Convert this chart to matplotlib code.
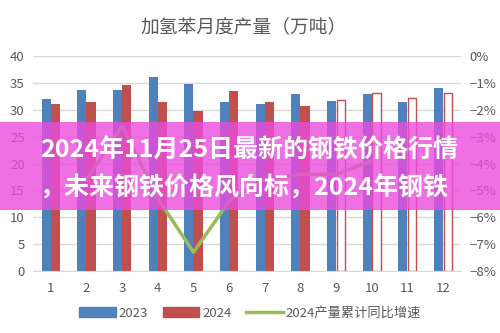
import matplotlib
matplotlib.use("Agg")
import matplotlib.pyplot as plt
import numpy as np
from matplotlib.lines import Line2D
from matplotlib.patches import Patch, Rectangle

plt.rcParams["font.family"] = ["Noto Sans CJK SC", "DejaVu Sans"]

months = np.arange(1, 13)
month_labels = [str(m) for m in months]
output_2023 = [32.0, 33.7, 33.7, 36.1, 34.8, 31.4, 31.1, 32.9, 31.7, 33.0, 31.4, 34.0]
output_2024 = [31.1, 31.4, 34.6, 31.4, 29.8, 33.4, 31.4, 30.6, 31.9, 33.2, 32.1, 33.1]
# months from September on are drawn as outlined (estimated) bars
estimated = [False] * 8 + [True] * 4
growth_2024 = [np.nan, -4.6, -2.6, -5.3, -7.3, -5.4, -4.6, -4.4, -4.4, -3.9, np.nan, np.nan]

left_ticks = [0, 5, 10, 15, 20, 25, 30, 35, 40]
right_ticks = [0, -1, -2, -3, -4, -5, -6, -7, -8]

BLUE = "#4F81BD"
RED = "#C0504D"
GREEN = "#9BBB59"
GRID = "#D9D9D9"
TEXT = "#595959"

fig = plt.figure(figsize=(5.0, 3.33), dpi=100)
fig.patch.set_facecolor("white")
ax = fig.add_axes([0.066, 0.186, 0.856, 0.646])
ax2 = ax.twinx()

width = 0.26
for m, v23, v24, est in zip(months, output_2023, output_2024, estimated):
    ax.bar(m - width / 2, v23, width=width, color=BLUE, zorder=2)
    if est:
        ax.bar(m + width / 2, v24, width=width * 0.92, facecolor="white",
               edgecolor=RED, linewidth=1.0, zorder=2)
    else:
        ax.bar(m + width / 2, v24, width=width, color=RED, zorder=2)

ax.set_xlim(0.5, 12.5)
ax.set_ylim(0, 40)
ax.set_yticks(left_ticks)
ax.set_xticks(months)
ax.set_xticklabels(month_labels)
ax.grid(axis="y", color=GRID, linewidth=1.0, zorder=0)
ax.set_axisbelow(True)
for side in ("left", "right", "top"):
    ax.spines[side].set_visible(False)
ax.spines["bottom"].set_color(GRID)
ax.tick_params(axis="both", length=0, colors=TEXT, labelsize=9.5)
ax.tick_params(axis="x", pad=8)
ax.tick_params(axis="y", pad=6)

ax2.plot(months, growth_2024, color=GREEN, linewidth=2.5, zorder=3)
ax2.set_ylim(-8, 0)
ax2.set_yticks(right_ticks)
ax2.set_yticklabels([f"{t}%".replace("-", "\u2212") for t in right_ticks])
for side in ("left", "right", "top", "bottom"):
    ax2.spines[side].set_visible(False)
ax2.tick_params(axis="y", length=0, colors=TEXT, labelsize=9.5, pad=6)

fig.text(0.487, 0.921, "加氢苯月度产量（万吨）", ha="center", va="center",
         fontsize=13.5, color=TEXT)

handles = [
    Patch(color=BLUE),
    Patch(color=RED),
    Line2D([0], [0], color=GREEN, linewidth=2.5),
]
fig.legend(handles, ["2023", "2024", "2024产量累计同比增速"], loc="center",
           bbox_to_anchor=(0.5, 0.06), ncol=3, frameon=False, fontsize=9.5,
           labelcolor=TEXT, handlelength=2.8, handleheight=0.7,
           columnspacing=1.1, handletextpad=0.2)

# headline banner laid over the chart
banner = Rectangle((0, 0.369), 1, 0.264, transform=fig.transFigure,
                   facecolor="#EA4CDD", alpha=0.8, edgecolor="none", zorder=5)
fig.patches.append(banner)
fig.text(0.08, 0.549, "2024年11月25日最新的钢铁价格行情", ha="left", va="center",
         fontsize=18, fontweight="bold", color="white", zorder=6)
fig.text(0.08, 0.435, "，未来钢铁价格风向标，2024年钢铁", ha="left", va="center",
         fontsize=18, fontweight="bold", color="white", zorder=6)

fig.savefig("out.png", dpi=100)
